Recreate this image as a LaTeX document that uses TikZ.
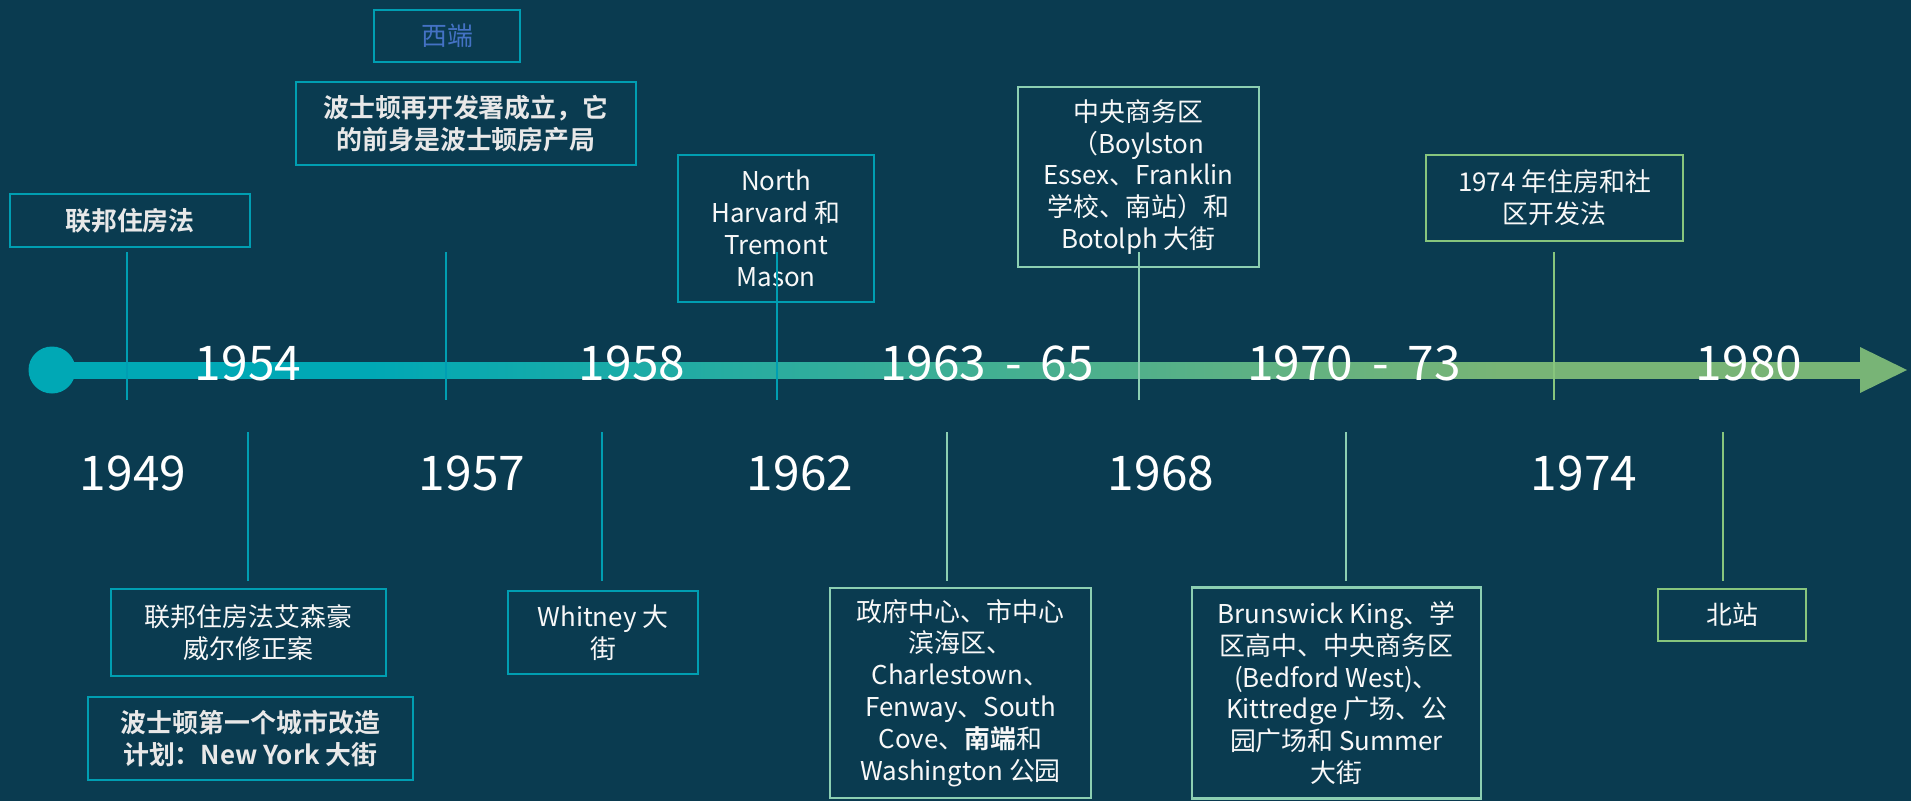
\documentclass[tikz,border=0pt]{standalone}
\usepackage{fontspec}
\setmainfont{Noto Sans CJK SC}[BoldFont={Noto Sans CJK SC Bold}]
\definecolor{bg}{RGB}{10,59,80}
\definecolor{tl}{RGB}{0,168,181}
\definecolor{gr}{RGB}{120,180,118}
\definecolor{tealb}{RGB}{0,158,178}
\definecolor{mint}{RGB}{140,207,178}
\definecolor{lgreen}{RGB}{135,197,125}
\definecolor{bluet}{RGB}{68,114,196}
\definecolor{txt}{RGB}{248,248,248}
\definecolor{btxt}{RGB}{232,232,232}
\pgfdeclarehorizontalshading{barshade}{100bp}{color(0bp)=(tl); color(33.8bp)=(tl); color(65bp)=(gr); color(100bp)=(gr)}
\newcommand\boxfont{\fontsize{26}{32}\selectfont}
\newcommand\yearfont{\fontsize{48}{56}\selectfont}
\newcommand\ygap{\hspace{19bp}}
\begin{document}
\begin{tikzpicture}[x=1bp,y=-1bp,
  evbox/.style={draw, line width=2.6pt, align=center, inner sep=0pt, text=txt, font=\boxfont},
  tealbox/.style={evbox, draw=tealb},
  mintbox/.style={evbox, draw=mint},
  greenbox/.style={evbox, draw=lgreen},
  boldtext/.style={text=btxt, font=\boxfont\bfseries},
  year/.style={anchor=base, text=white, font=\yearfont, inner sep=0pt},
  tick/.style={line width=2.2pt},
]
\useasboundingbox (0,0) rectangle (1911,801);
\fill[bg] (0,0) rectangle (1911,801);

% timeline bar
\shade[shading=barshade] (52,362) rectangle (1862,378);
\fill[gr] (1860,347) -- (1907,370) -- (1860,393) -- cycle;
\node[circle, fill=tl, minimum size=47bp, inner sep=0pt] (start) at (52,370) {};

% years above
\node[year] (y1954) at (248,380) {1954};
\node[year] (y1958) at (632,380) {1958};
\node[year] (y1963) at (987,380) {1963\ygap-\ygap65};
\node[year] (y1970) at (1354,380) {1970\ygap-\ygap73};
\node[year] (y1980) at (1749,380) {1980};
% years below
\node[year] (y1949) at (133,490) {1949};
\node[year] (y1957) at (472,490) {1957};
\node[year] (y1962) at (800,490) {1962};
\node[year] (y1968) at (1161,490) {1968};
\node[year] (y1974) at (1584,490) {1974};

% top boxes
\node[tealbox, boldtext, minimum width=240bp, minimum height=53bp] (b1) at (130,220.5) {联邦住房法};
\node[tealbox, text=bluet, minimum width=146bp, minimum height=52bp] (b2) at (447,36) {西端};
\node[tealbox, boldtext, minimum width=340bp, minimum height=83bp] (b3) at (466,123.5) {波士顿再开发署成立，它\\的前身是波士顿房产局};
\node[tealbox, minimum width=196bp, minimum height=147bp] (b4) at (776,228.5) {North\\Harvard 和\\Tremont\\Mason};
\node[mintbox, minimum width=241bp, minimum height=180bp] (b5) at (1138.5,177) {中央商务区\\（Boylston\\Essex、Franklin\\学校、南站）和\\Botolph 大街};
\node[greenbox, minimum width=257bp, minimum height=86bp] (b6) at (1554.5,198) {1974 年住房和社\\区开发法};

% bottom boxes
\node[tealbox, minimum width=275bp, minimum height=87bp] (b7) at (248.5,632.5) {联邦住房法艾森豪\\威尔修正案};
\node[tealbox, boldtext, minimum width=325bp, minimum height=83bp] (b8) at (250.5,738.5) {波士顿第一个城市改造\\计划：New York 大街};
\node[tealbox, minimum width=190bp, minimum height=83bp] (b9) at (603,632.5) {Whitney 大\\街};
\node[mintbox, minimum width=261bp, minimum height=210bp] (b10) at (960.5,693) {政府中心、市中心\\滨海区、\\Charlestown、\\Fenway、South\\Cove、\textbf{南端}和\\Washington 公园};
\node[mintbox, minimum width=289bp, minimum height=211bp] (b11) at (1336.5,693) {Brunswick King、学\\区高中、中央商务区\\(Bedford West)、\\Kittredge 广场、公\\园广场和 Summer\\大街};
\node[greenbox, minimum width=148bp, minimum height=52bp] (b12) at (1732,615) {北站};

% connector ticks (top)
\coordinate (t1a) at (127,252);  \coordinate (t1b) at (127,400);
\coordinate (t2a) at (446,252);  \coordinate (t2b) at (446,400);
\coordinate (t3a) at (777,252);  \coordinate (t3b) at (777,400);
\coordinate (t4a) at (1139,252); \coordinate (t4b) at (1139,400);
\coordinate (t5a) at (1554,252); \coordinate (t5b) at (1554,400);
\draw[tick, tealb] (t1a) -- (t1b);
\draw[tick, tealb] (t2a) -- (t2b);
\draw[tick, tealb] (t3a) -- (t3b);
\draw[tick, mint] (t4a) -- (t4b);
\draw[tick, lgreen] (t5a) -- (t5b);
% connector ticks (bottom)
\coordinate (u1a) at (248,432);  \coordinate (u1b) at (248,581);
\coordinate (u2a) at (602,432);  \coordinate (u2b) at (602,581);
\coordinate (u3a) at (947,432);  \coordinate (u3b) at (947,581);
\coordinate (u4a) at (1346,432); \coordinate (u4b) at (1346,581);
\coordinate (u5a) at (1723,432); \coordinate (u5b) at (1723,581);
\draw[tick, tealb] (u1a) -- (u1b);
\draw[tick, tealb] (u2a) -- (u2b);
\draw[tick, mint] (u3a) -- (u3b);
\draw[tick, mint] (u4a) -- (u4b);
\draw[tick, lgreen] (u5a) -- (u5b);
\end{tikzpicture}
\end{document}
